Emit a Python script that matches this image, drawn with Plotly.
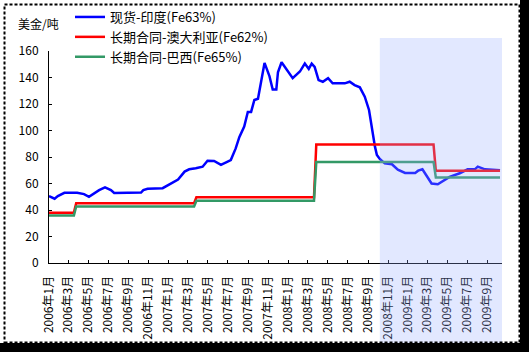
import plotly.graph_objects as go

# ---------------- data ----------------
spot_dates = [
    "2006-01-01", "2006-01-18", "2006-01-28", "2006-02-17", "2006-03-28", "2006-04-18",
    "2006-05-03", "2006-06-03", "2006-06-21", "2006-07-09", "2006-07-19", "2006-08-24",
    "2006-08-28", "2006-10-09", "2006-10-16", "2006-10-29", "2006-12-14", "2006-12-25",
    "2007-01-15", "2007-01-30", "2007-02-19", "2007-03-05", "2007-03-25", "2007-04-15",
    "2007-04-30", "2007-05-20", "2007-06-10", "2007-06-25", "2007-07-10", "2007-07-25",
    "2007-08-05", "2007-08-20", "2007-08-31", "2007-09-10", "2007-09-20", "2007-10-01",
    "2007-10-11", "2007-10-21", "2007-11-05", "2007-11-15", "2007-11-26", "2007-12-01",
    "2007-12-12", "2007-12-30", "2008-01-15", "2008-02-06", "2008-02-21", "2008-03-04",
    "2008-03-13", "2008-03-22", "2008-04-03", "2008-04-16", "2008-05-02", "2008-05-16",
    "2008-06-22", "2008-07-07", "2008-07-22", "2008-08-07", "2008-08-22", "2008-09-04",
    "2008-09-13", "2008-09-22", "2008-09-28", "2008-10-07", "2008-10-22", "2008-11-13",
    "2008-12-01", "2008-12-23", "2009-01-23", "2009-02-01", "2009-02-14", "2009-02-28",
    "2009-03-14", "2009-04-02", "2009-04-17", "2009-05-08", "2009-06-08", "2009-07-02",
    "2009-07-24", "2009-08-02", "2009-08-24", "2009-10-09",
]
spot_india = [
    50.5, 48.5, 50.5, 53, 53, 52,
    50, 55, 57, 55, 52.8, 52.8,
    53, 53.2, 55, 56, 56.5, 58,
    61.5, 63, 69, 70.7, 71.5, 72.7,
    77.2, 77, 74, 76, 77.7, 86.5,
    95, 103, 114, 114, 123, 124,
    138, 151, 141, 131, 131, 144,
    151.5, 145.5, 139.5, 144.5, 150.5, 146.5,
    150.5, 148, 138, 136.8, 139.5, 135.6,
    135.6, 136.8, 134.3, 132.6, 125.5, 115.5,
    100, 88, 81.5, 78.5, 75.2, 74.5,
    70.5, 68, 68, 69.7, 70.7, 65,
    60, 59.4, 62, 65, 67.7, 70.7,
    70.7, 72.7, 70.7, 70,
]

contract_dates = [
    "2006-01-01", "2006-03-18", "2006-03-25", "2007-03-20", "2007-03-27",
    "2008-03-20", "2008-03-27", "2009-03-20", "2009-03-27", "2009-10-09",
]
contract_australia = [38, 38, 45.1, 45.1, 49.6, 49.6, 89.4, 89.4, 69.6, 69.6]
contract_brazil = [35.8, 35.8, 42.6, 42.6, 47, 47, 76.3, 76.3, 64.6, 64.6]

series_names = ["现货-印度(Fe63%)", "长期合同-澳大利亚(Fe62%)", "长期合同-巴西(Fe65%)"]
y_ticks = [0, 20, 40, 60, 80, 100, 120, 140, 160]
x_range = ["2006-01-01", "2009-10-15"]
shade_start = "2008-10-07"

# ---------------- layout geometry ----------------
W, H = 529, 352
ML, MR, MT, MB = 49, 27, 51, 89
PW, PH = W - ML - MR, H - MT - MB


def px_x(px):
    return (px - ML) / PW


def px_y(py):
    return (H - MB - py) / PH


FONT = "Noto Sans CJK SC, Noto Sans, sans-serif"

fig = go.Figure()
fig.add_trace(go.Scatter(x=spot_dates, y=spot_india, mode="lines", name=series_names[0],
                         line=dict(color="#0000FF", width=2.5)))
fig.add_trace(go.Scatter(x=contract_dates, y=contract_australia, mode="lines", name=series_names[1],
                         line=dict(color="#FF0000", width=2.5)))
fig.add_trace(go.Scatter(x=contract_dates, y=contract_brazil, mode="lines", name=series_names[2],
                         line=dict(color="#339966", width=2.5)))

shapes = [
    # shaded region (drawn over lines and labels)
    dict(type="rect", xref="x", yref="paper", x0=shade_start, x1=x_range[1],
         y0=px_y(343), y1=px_y(38), fillcolor="rgba(150,172,255,0.28)",
         line=dict(width=0), layer="above"),
    # dashed frame
    dict(type="rect", xref="paper", yref="paper", x0=px_x(4.5), x1=px_x(519.5),
         y0=px_y(342.5), y1=px_y(4.5), line=dict(color="black", width=2, dash="3px,2px"),
         fillcolor="rgba(0,0,0,0)", layer="above"),
    # shadow strips
    dict(type="rect", xref="paper", yref="paper", x0=px_x(520), x1=px_x(529 + 2),
         y0=px_y(352 + 2), y1=px_y(0), fillcolor="black", line=dict(width=0), layer="above"),
    dict(type="rect", xref="paper", yref="paper", x0=px_x(0), x1=px_x(529 + 2),
         y0=px_y(352 + 2), y1=px_y(343), fillcolor="black", line=dict(width=0), layer="above"),
]

fig.update_layout(
    width=W, height=H,
    margin=dict(l=ML, r=MR, t=MT, b=MB, pad=0, autoexpand=False),
    paper_bgcolor="white", plot_bgcolor="white",
    font=dict(family=FONT, size=12, color="black"),
    showlegend=True,
    legend=dict(x=px_x(70), y=px_y(2), xanchor="left", yanchor="top",
                bgcolor="rgba(0,0,0,0)", font=dict(size=13), tracegroupgap=0),
    shapes=shapes,
    annotations=[dict(text="美金/吨", xref="paper", yref="paper", x=px_x(16), y=px_y(23),
                      xanchor="left", yanchor="middle", showarrow=False,
                      font=dict(size=12))],
    xaxis=dict(type="date", range=x_range, tick0="2006-01-01", dtick="M2",
               tickformat="%Y年%-m月", tickangle=-90, ticks="inside", ticklen=3,
               tickcolor="black", showline=True, linecolor="black", linewidth=1,
               showgrid=False, zeroline=False, ticklabelstandoff=7,
               tickfont=dict(size=12)),
    yaxis=dict(range=[0, 160], tickvals=y_ticks, ticks="inside", ticklen=3,
               tickcolor="black", showline=True, linecolor="black", linewidth=1,
               showgrid=False, zeroline=False, ticklabelstandoff=7,
               tickfont=dict(size=12)),
)

fig.write_html("out.html")
